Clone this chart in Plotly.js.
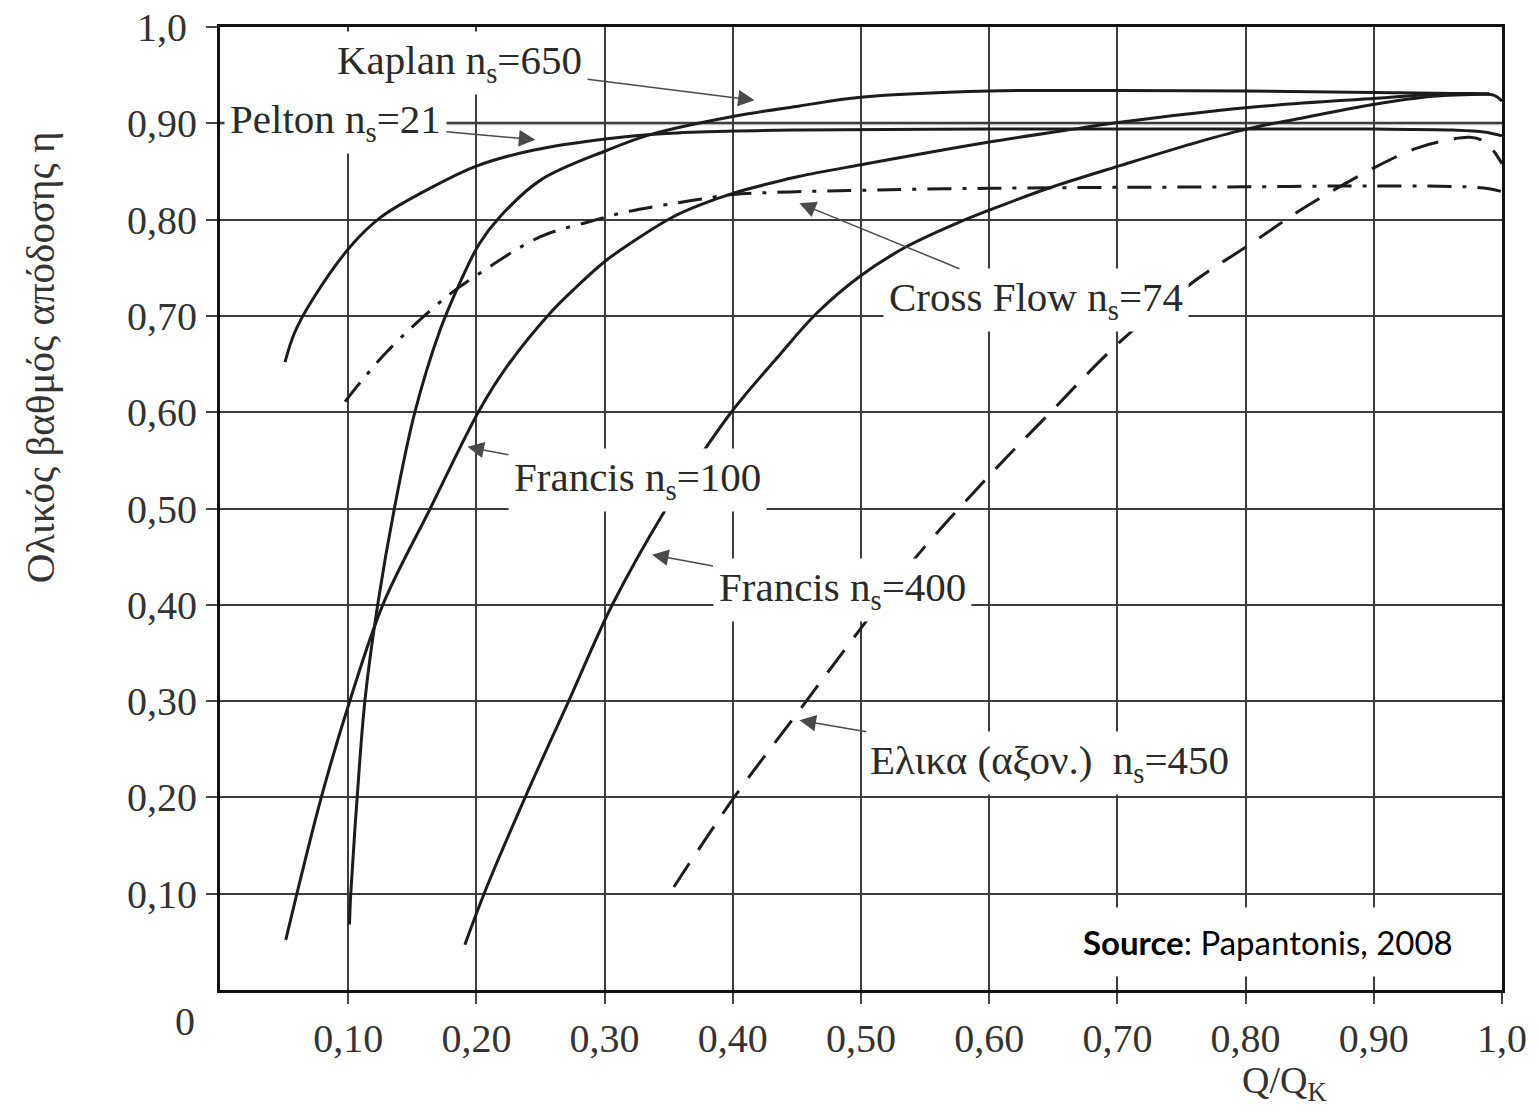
<!DOCTYPE html>
<html>
<head>
<meta charset="utf-8">
<script src="https://cdn.plot.ly/plotly-3.0.1.min.js"></script>
<style>
  html, body { margin: 0; padding: 0; background: #ffffff; }
  #chart { width: 1539px; height: 1117px; }
</style>
</head>
<body>
<div id="chart"></div>
<script>
// ---------------- data ----------------
const seriesNames = [
  'Kaplan n<sub>s</sub>=650',
  'Pelton n<sub>s</sub>=21',
  'Cross Flow n<sub>s</sub>=74',
  'Francis n<sub>s</sub>=100',
  'Francis n<sub>s</sub>=400',
  'Ελικα (αξον.) \u00a0n<sub>s</sub>=450'
];

const peltonX = [0.0507, 0.058, 0.072, 0.1017, 0.125, 0.166, 0.201, 0.244, 0.302, 0.348, 0.40, 0.452, 0.60, 0.764, 0.90, 0.962, 0.986, 1.0];
const peltonY = [0.652, 0.682, 0.7165, 0.772, 0.802, 0.834, 0.856, 0.872, 0.884, 0.8895, 0.892, 0.893, 0.894, 0.894, 0.894, 0.893, 0.891, 0.887];

const kaplanX = [0.101, 0.102, 0.107, 0.113, 0.123, 0.136, 0.152, 0.1716, 0.187, 0.2023, 0.2184, 0.25, 0.302, 0.335, 0.40, 0.452, 0.50, 0.60, 0.70, 0.80, 0.90, 0.96, 0.994, 1.0];
const kaplanY = [0.068, 0.10, 0.20, 0.30, 0.40, 0.50, 0.60, 0.685, 0.734, 0.775, 0.803, 0.841, 0.872, 0.888, 0.907, 0.918, 0.927, 0.9335, 0.934, 0.9335, 0.932, 0.931, 0.929, 0.923];

const crossFlowX = [0.0975, 0.13, 0.1768, 0.2023, 0.2496, 0.2886, 0.317, 0.369, 0.40, 0.445, 0.50, 0.60, 0.70, 0.80, 0.90, 0.972, 0.99, 1.0];
const crossFlowY = [0.611, 0.6625, 0.72, 0.744, 0.782, 0.798, 0.808, 0.820, 0.826, 0.8287, 0.8305, 0.8325, 0.8335, 0.834, 0.835, 0.834, 0.832, 0.829];

const francis100X = [0.0513, 0.079, 0.101, 0.127, 0.164, 0.2023, 0.2236, 0.2574, 0.2756, 0.3016, 0.3276, 0.3536, 0.374, 0.40, 0.43, 0.452, 0.50, 0.60, 0.671, 0.702, 0.802, 0.902, 0.946, 0.99];
const francis100Y = [0.052, 0.20, 0.299, 0.40, 0.50, 0.602, 0.647, 0.7027, 0.727, 0.758, 0.782, 0.803, 0.815, 0.8273, 0.838, 0.845, 0.857, 0.8806, 0.895, 0.901, 0.9164, 0.926, 0.930, 0.9305];

const francis400X = [0.191, 0.206, 0.238, 0.272, 0.306, 0.348, 0.3744, 0.40, 0.4368, 0.4654, 0.4987, 0.5356, 0.5746, 0.6084, 0.645, 0.702, 0.764, 0.803, 0.842, 0.902, 0.946, 0.99];
const francis400Y = [0.047, 0.10, 0.20, 0.30, 0.40, 0.50, 0.554, 0.602, 0.66, 0.7027, 0.7407, 0.772, 0.7962, 0.814, 0.832, 0.856, 0.881, 0.8947, 0.905, 0.92, 0.928, 0.9305];

const propellerX = [0.354, 0.401, 0.45, 0.499, 0.541, 0.60, 0.645, 0.702, 0.762, 0.802, 0.845, 0.902, 0.933, 0.955, 0.975, 0.985, 0.993, 1.0];
const propellerY = [0.107, 0.20, 0.287, 0.374, 0.4465, 0.534, 0.596, 0.673, 0.738, 0.773, 0.8117, 0.855, 0.874, 0.882, 0.8855, 0.882, 0.872, 0.858];

const xTickVals = [0.1, 0.2, 0.3, 0.4, 0.5, 0.6, 0.7, 0.8, 0.9, 1.0];
const xTickText = ['0,10', '0,20', '0,30', '0,40', '0,50', '0,60', '0,70', '0,80', '0,90', '1,0'];
const yTickVals = [0.1, 0.2, 0.3, 0.4, 0.5, 0.6, 0.7, 0.8, 0.9, 1.0];
const yTickText = ['0,10', '0,20', '0,30', '0,40', '0,50', '0,60', '0,70', '0,80', '0,90', '1,0\u2005'];

const yTitleText = 'Ολικός βαθμός απόδοσης η';
const xTitleText = 'Q/Q<sub>K</sub>';
const originText = '0';
const sourceText = '<b>Source</b>: Papantonis, 2008';
const highlightGridValue = 0.9;

// ---------------- styling ----------------
const serif = 'Liberation Serif, Times New Roman, serif';
const ink = '#1c1c1c';

function curve(x, y, dash) {
  return {
    x: x, y: y, type: 'scatter', mode: 'lines', hoverinfo: 'skip',
    line: { color: ink, width: 3, shape: 'spline', smoothing: 1.0, dash: dash || 'solid' }
  };
}

const traces = [
  curve(kaplanX, kaplanY),
  curve(peltonX, peltonY),
  curve(crossFlowX, crossFlowY, '24px,11px,4px,11px'),
  curve(francis100X, francis100Y),
  curve(francis400X, francis400Y),
  curve(propellerX, propellerY, '28px,16px')
];

// label annotations: arrow tip on the curve, text offset in pixels
const labelPlacement = [
  { tx: 0.417, ty: 0.924, ax: -295, ay: -37 },
  { tx: 0.246, ty: 0.883, ax: -200, ay: -18 },
  { tx: 0.452, ty: 0.817, ax: 237, ay: 97 },
  { tx: 0.193, ty: 0.564, ax: 170, ay: 33 },
  { tx: 0.337, ty: 0.452, ax: 190, ay: 35 },
  { tx: 0.452, ty: 0.280, ax: 250, ay: 43 }
];

const annotations = seriesNames.map((name, i) => ({
  x: labelPlacement[i].tx, y: labelPlacement[i].ty, xref: 'x', yref: 'y',
  text: name, showarrow: true,
  ax: labelPlacement[i].ax, ay: labelPlacement[i].ay,
  arrowhead: 2, arrowsize: 2.2, arrowwidth: 1.5, arrowcolor: '#4a4a4a',
  bgcolor: 'white', borderpad: 5,
  font: { family: serif, size: 41, color: '#2a2a2a' }
}));

annotations.push(
  { xref: 'paper', yref: 'paper', x: -0.1404, y: 0.657, text: yTitleText, textangle: -90,
    showarrow: false, xanchor: 'center', yanchor: 'middle',
    font: { family: serif, size: 41, color: '#333' } },
  { xref: 'paper', yref: 'paper', x: 0.8307, y: -0.0966, text: xTitleText,
    showarrow: false, xanchor: 'center', yanchor: 'middle',
    font: { family: serif, size: 38, color: '#333' } },
  { xref: 'paper', yref: 'paper', x: -0.0273, y: -0.0332, text: originText,
    showarrow: false, xanchor: 'center', yanchor: 'middle',
    font: { family: serif, size: 40, color: '#333' } },
  { xref: 'paper', yref: 'paper', x: 0.8175, y: 0.0498, text: sourceText,
    showarrow: false, xanchor: 'center', yanchor: 'middle',
    bgcolor: 'white', borderpad: 14,
    font: { family: 'Lato, Carlito, Calibri, sans-serif', size: 33, color: '#000' } }
);

const axisCommon = {
  range: [0, 1], showgrid: true, gridcolor: '#3c3c3c', gridwidth: 2,
  showline: true, linecolor: '#111', linewidth: 3, mirror: true,
  ticks: 'outside', ticklen: 11, tickwidth: 2, tickcolor: '#444',
  zeroline: false, fixedrange: true,
  tickfont: { family: serif, size: 40, color: '#333' }
};

const layout = {
  width: 1539, height: 1117,
  margin: { l: 220, r: 37, t: 27, b: 127, pad: 0 },
  paper_bgcolor: 'white', plot_bgcolor: 'white',
  showlegend: false,
  font: { family: serif, color: '#222' },
  xaxis: Object.assign({}, axisCommon, { tickvals: xTickVals, ticktext: xTickText, ticklabelstandoff: 0 }),
  yaxis: Object.assign({}, axisCommon, { tickvals: yTickVals, ticktext: yTickText, ticklabelstandoff: 1 }),
  shapes: [
    { type: 'line', xref: 'paper', x0: 0, x1: 1, yref: 'y', y0: highlightGridValue, y1: highlightGridValue,
      line: { color: '#b8b8b8', width: 4 }, layer: 'between' }
  ],
  annotations: annotations
};

Plotly.newPlot('chart', traces, layout, { displayModeBar: false, staticPlot: true });
</script>
</body>
</html>
